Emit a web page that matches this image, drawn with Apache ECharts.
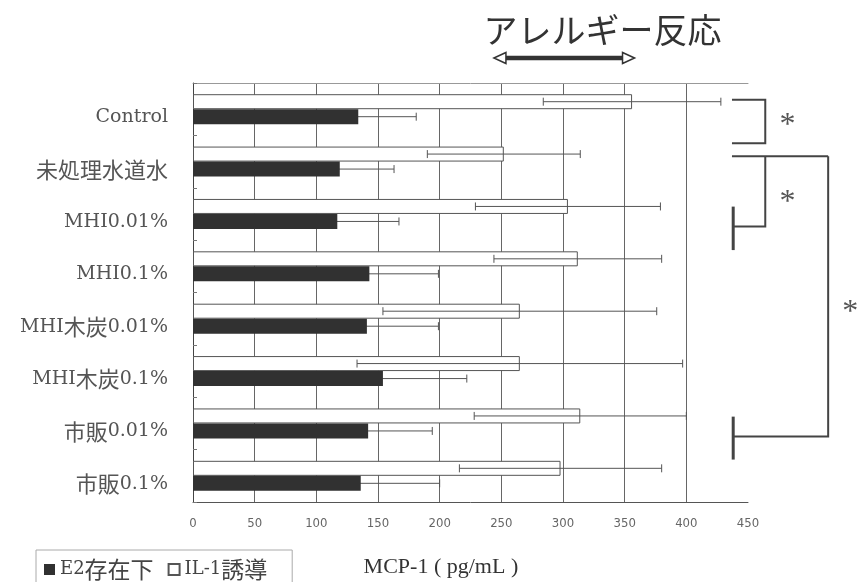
<!DOCTYPE html>
<html>
<head>
<meta charset="utf-8">
<script src="https://cdn.jsdelivr.net/npm/echarts@6/dist/echarts.min.js"></script>
<style>
  html, body { margin: 0; padding: 0; background: #fff; }
  #chart { width: 857px; height: 582px; }
</style>
</head>
<body>
<div id="chart"></div>
<script>
// Treatment groups, top to bottom
const categories = ['Control', '未処理水道水', 'MHI0.01%', 'MHI0.1%', 'MHI木炭0.01%', 'MHI木炭0.1%', '市販0.01%', '市販0.1%'];

// MCP-1 (pg/mL): mean and SD per group
const e2Mean  = [134, 119, 117, 143, 141, 154, 142, 136];
const e2Err   = [47, 44, 50, 56, 58, 68, 52, 64];
const il1Mean = [356, 252, 304, 312, 265, 265, 314, 298];
const il1Err  = [72, 62, 75, 68, 111, 132, 86, 82];

// Value axis ticks
const axisMin = 0;
const axisMax = 450;
const axisStep = 50;

const seriesNames = ['E2存在下', 'IL-1誘導'];

const LATIN_SERIF = "'DejaVu Serif', 'Noto Sans CJK JP', serif";
const CJK = "'Noto Sans CJK JP', sans-serif";
const BAR_W = 15;

// Wrap runs of CJK characters so they can be sized separately from Latin text
function mixed(s) {
  return s.replace(/([^\x00-\x7F]+)/g, '{c|$1}');
}

const chart = echarts.init(document.getElementById('chart'), null, { renderer: 'canvas' });

// Whisker series: side = -1 draws in the upper half of the band, +1 in the lower half
function errorSeries(means, errs, side, z) {
  return {
    type: 'custom',
    silent: true,
    z: z,
    data: means.map((m, i) => [i, m, errs[i]]),
    encode: { x: 1, y: 0 },
    renderItem(params, api) {
      const cat = api.value(0), m = api.value(1), e = api.value(2);
      const dy = side * BAR_W / 2;
      const lo = api.coord([m - e, cat]);
      const hi = api.coord([m + e, cat]);
      const y = lo[1] + dy;
      const cap = 4;
      const st = { stroke: '#555', lineWidth: 1 };
      return {
        type: 'group',
        children: [
          { type: 'line', shape: { x1: lo[0], y1: y, x2: hi[0], y2: y }, style: st },
          { type: 'line', shape: { x1: lo[0], y1: y - cap, x2: lo[0], y2: y + cap }, style: st },
          { type: 'line', shape: { x1: hi[0], y1: y - cap, x2: hi[0], y2: y + cap }, style: st }
        ]
      };
    }
  };
}

chart.setOption({
  backgroundColor: '#fff',
  animation: false,
  grid: { left: 193, right: 109, top: 83, bottom: 80 },
  legend: {
    data: seriesNames,
    left: 36, top: 550,
    orient: 'horizontal',
    icon: 'rect',
    itemWidth: 11, itemHeight: 11,
    itemGap: 14,
    padding: [8, 25, 24, 8],
    borderColor: '#aaa', borderWidth: 1,
    formatter: mixed,
    textStyle: {
      fontFamily: LATIN_SERIF, fontSize: 18, color: '#444',
      rich: { c: { fontFamily: CJK, fontSize: 23, color: '#444' } }
    }
  },
  xAxis: [
    {
      type: 'value', position: 'bottom',
      min: axisMin, max: axisMax, interval: axisStep,
      axisLine: { show: true, lineStyle: { color: '#555', width: 1 } },
      axisTick: { show: false },
      axisLabel: {
        margin: 15, color: '#666', fontSize: 13,
        fontFamily: "'Liberation Sans Narrow', 'DejaVu Sans Condensed', sans-serif"
      },
      splitLine: { show: true, showMaxLine: false, lineStyle: { color: '#666', width: 1 } }
    },
    {
      type: 'value', position: 'top',
      min: axisMin, max: axisMax, interval: axisStep,
      axisLine: { show: true, lineStyle: { color: '#999', width: 1 } },
      axisTick: { show: false },
      axisLabel: { show: false },
      splitLine: { show: false }
    }
  ],
  yAxis: {
    type: 'category', data: categories, inverse: true,
    axisLine: { show: true, lineStyle: { color: '#444', width: 1 } },
    axisTick: { show: true, inside: true, length: 4, lineStyle: { color: '#777' } },
    axisLabel: {
      margin: 25, color: '#555', fontSize: 19, fontFamily: LATIN_SERIF,
      verticalAlign: 'top', lineHeight: 16,
      formatter: mixed,
      rich: { c: { fontFamily: CJK, fontSize: 22, color: '#555', lineHeight: 16 } }
    },
    splitLine: { show: false }
  },
  series: [
    errorSeries(e2Mean, e2Err, 1, 1),
    {
      name: 'IL-1誘導', type: 'bar', data: il1Mean, z: 2,
      barWidth: BAR_W, barGap: '0%',
      itemStyle: { color: '#fff', borderColor: '#555', borderWidth: 1 }
    },
    {
      name: 'E2存在下', type: 'bar', data: e2Mean, z: 2,
      barWidth: BAR_W, barGap: '0%',
      itemStyle: { color: '#313131' }
    },
    errorSeries(il1Mean, il1Err, -1, 3)
  ]
});

// Annotations: title arrow, axis name and significance brackets
function X(v) { return chart.convertToPixel({ xAxisIndex: 0 }, v); }
const yc0 = chart.convertToPixel({ yAxisIndex: 0 }, 0);
const yc1 = chart.convertToPixel({ yAxisIndex: 0 }, 1);
function Y(pos) { return yc0 + pos * (yc1 - yc0); }

const ink = '#444';
function poly(points, w) {
  return { type: 'polyline', shape: { points: points }, style: { stroke: ink, lineWidth: w || 2, fill: null }, z: 10 };
}
function star(x, y) {
  return {
    type: 'text', x: x, y: y, z: 10,
    style: { text: '*', font: "32px 'Liberation Serif', serif", fill: '#555', align: 'center', verticalAlign: 'middle' }
  };
}

const arrowY = 58;
const aL = X(244), aR = X(358);
const head = 12;

chart.setOption({
  graphic: [
    {
      type: 'text', x: X(332), y: 30, z: 10,
      style: { text: 'アレルギー反応', font: "34px 'Noto Sans CJK JP', sans-serif", fill: '#333', align: 'center', verticalAlign: 'middle' }
    },
    { type: 'line', shape: { x1: aL + head - 2, y1: arrowY, x2: aR - head + 2, y2: arrowY }, style: { stroke: '#333', lineWidth: 4.5 }, z: 10 },
    { type: 'polygon', shape: { points: [[aL, arrowY], [aL + head, arrowY - 5.5], [aL + head, arrowY + 5.5]] }, style: { fill: '#fff', stroke: '#333', lineWidth: 1.5 }, z: 11 },
    { type: 'polygon', shape: { points: [[aR, arrowY], [aR - head, arrowY - 5.5], [aR - head, arrowY + 5.5]] }, style: { fill: '#fff', stroke: '#333', lineWidth: 1.5 }, z: 11 },
    {
      type: 'text', x: X(201), y: 567, z: 10,
      style: { text: 'MCP-1 ( pg/mL )', font: "22px 'Liberation Serif', serif", fill: '#333', align: 'center', verticalAlign: 'middle' }
    },
    // Control vs 未処理水道水
    poly([[X(437), Y(-0.18)], [X(464), Y(-0.18)], [X(464), Y(0.65)], [X(437), Y(0.65)]]),
    star(X(482), Y(0.32)),
    // 未処理水道水 vs MHI0.01%
    poly([[X(437), Y(0.9)], [X(515), Y(0.9)]]),
    poly([[X(464), Y(0.9)], [X(464), Y(2.24)], [X(438), Y(2.24)]]),
    poly([[X(438), Y(1.86)], [X(438), Y(2.69)]], 3),
    star(X(482), Y(1.79)),
    // 未処理水道水 vs 市販0.01%
    poly([[X(515), Y(0.9)], [X(515), Y(6.25)], [X(438), Y(6.25)]]),
    poly([[X(438), Y(5.87)], [X(438), Y(6.69)]], 3),
    star(X(533), Y(3.89))
  ]
});
</script>
</body>
</html>
